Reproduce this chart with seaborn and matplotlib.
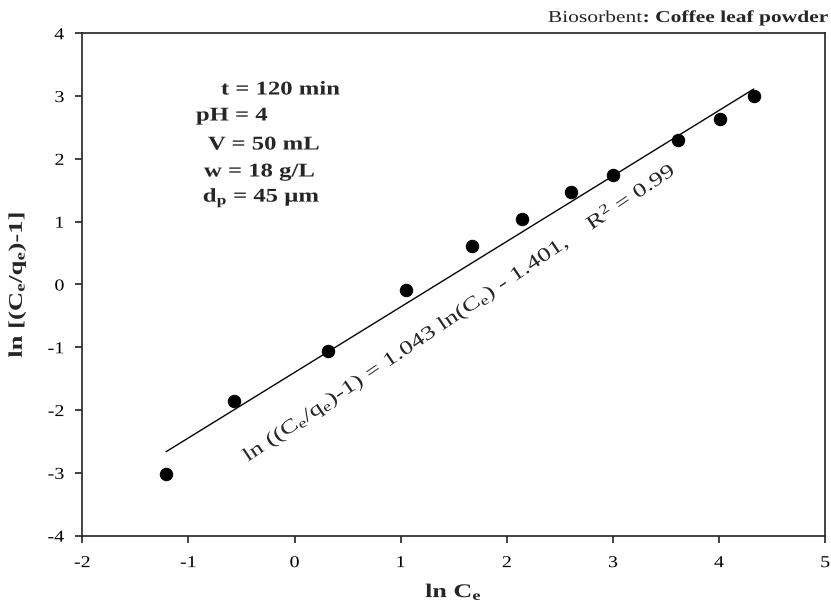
import numpy as np
import pandas as pd
import matplotlib
matplotlib.use("Agg")
import matplotlib.pyplot as plt
import seaborn as sns
from matplotlib.patheffects import AbstractPathEffect
from matplotlib.transforms import Affine2D

ln_ce = [-1.21, -0.575, 0.311, 1.054, 1.674, 2.139, 2.604, 2.997, 3.613, 4.006, 4.327]
ln_ratio = [-3.02, -1.85, -1.06, -0.09, 0.62, 1.04, 1.47, 1.74, 2.30, 2.63, 3.00]
slope = 1.043
intercept = -1.401
x_ticks = [-2, -1, 0, 1, 2, 3, 4, 5]
y_ticks = [-4, -3, -2, -1, 0, 1, 2, 3, 4]
cond_lines = ["t = 120 min", "pH = 4", "V = 50 mL", "w = 18 g/L", "d$_p$ = 45 µm"]


class Stretch(AbstractPathEffect):
    """Widen glyphs along the text direction (text stays a Text artist)."""

    def __init__(self, sx=1.3, anchor="left", angle=0.0):
        super().__init__()
        self.sx = sx
        self.anchor = anchor
        self.angle = angle

    def draw_path(self, renderer, gc, tpath, affine, rgbFace=None):
        ext = tpath.get_extents()
        if self.anchor == "left":
            lx = ext.x0
        elif self.anchor == "right":
            lx = ext.x1
        else:
            lx = 0.5 * (ext.x0 + ext.x1)
        ax0, ay0 = affine.transform((lx, 0.0))
        st = (Affine2D().translate(-ax0, -ay0).rotate_deg(-self.angle)
              .scale(self.sx, 1).rotate_deg(self.angle).translate(ax0, ay0))
        renderer.draw_path(gc, tpath, affine + st, rgbFace)


sns.set_theme(style="white")
plt.rcParams["font.family"] = ["Liberation Serif", "DejaVu Serif"]
plt.rcParams["mathtext.default"] = "regular"

df = pd.DataFrame({"x": ln_ce, "y": ln_ratio})
fit = pd.DataFrame({"x": [min(ln_ce), max(ln_ce)]})
fit["y"] = slope * fit["x"] + intercept

fig = plt.figure(figsize=(8.31, 6.01), dpi=100)
ax = fig.add_axes([0.099, 0.1087, 0.894, 0.836])

sns.lineplot(data=fit, x="x", y="y", ax=ax, color="black", linewidth=1.0)
sns.scatterplot(data=df, x="x", y="y", ax=ax, color="black", s=80, edgecolor="black", zorder=3)

ax.set_xlim(-2, 5)
ax.set_ylim(-4, 4)
ax.set_xticks(x_ticks)
ax.set_yticks(y_ticks)
ax.set_xticklabels([str(v) for v in x_ticks])
ax.set_yticklabels([str(v) for v in y_ticks])
for s in ax.spines.values():
    s.set_color("#222222")
    s.set_linewidth(1.2)
ax.tick_params(axis="both", which="both", direction="out", length=5, width=1.2,
               color="#222222", labelsize=12, labelcolor="black",
               bottom=True, left=True, top=False, right=False)
ax.tick_params(axis="x", pad=9)
ax.tick_params(axis="y", pad=8)
for lab in ax.get_xticklabels():
    lab.set_path_effects([Stretch(1.2, "center", 0)])
for lab in ax.get_yticklabels():
    lab.set_path_effects([Stretch(1.2, "right", 0)])

ax.set_xlabel("ln C$_e$", fontsize=14, fontweight="bold", labelpad=8)
ax.set_ylabel("ln [(C$_e$/q$_e$)-1]", fontsize=14, fontweight="bold")
ax.yaxis.set_label_coords(-0.073, 0.5)
ax.xaxis.label.set_path_effects([Stretch(1.34, "center", 0)])
ax.yaxis.label.set_path_effects([Stretch(1.37, "center", 90)])

# condition text block
pos = [(221, 90), (196, 116), (208, 145), (204, 172), (203, 198)]
for (px, py), t in zip(pos, cond_lines):
    fig.text(px / 831, 1 - py / 601, t, fontsize=14, fontweight="bold",
             ha="left", va="center", path_effects=[Stretch(1.27, "left", 0)])

# equation along the line
eq_angle = 34
fig.text(248 / 831, 1 - 462 / 601,
         "ln ((C$_e$/q$_e$)-1) = 1.043 ln(C$_e$) - 1.401,    R$^2$ = 0.99",
         fontsize=14, rotation=eq_angle, rotation_mode="anchor", ha="left", va="baseline",
         path_effects=[Stretch(1.36, "left", eq_angle)])

# title
fig.text(548 / 831, 1 - 18 / 601, "Biosorbent", fontsize=12,
         ha="left", va="center", path_effects=[Stretch(1.29, "left", 0)])
fig.text(643 / 831, 1 - 18 / 601, ": Coffee leaf powder", fontsize=12, fontweight="bold",
         ha="left", va="center", path_effects=[Stretch(1.29, "left", 0)])

fig.savefig("out.png", dpi=100)
